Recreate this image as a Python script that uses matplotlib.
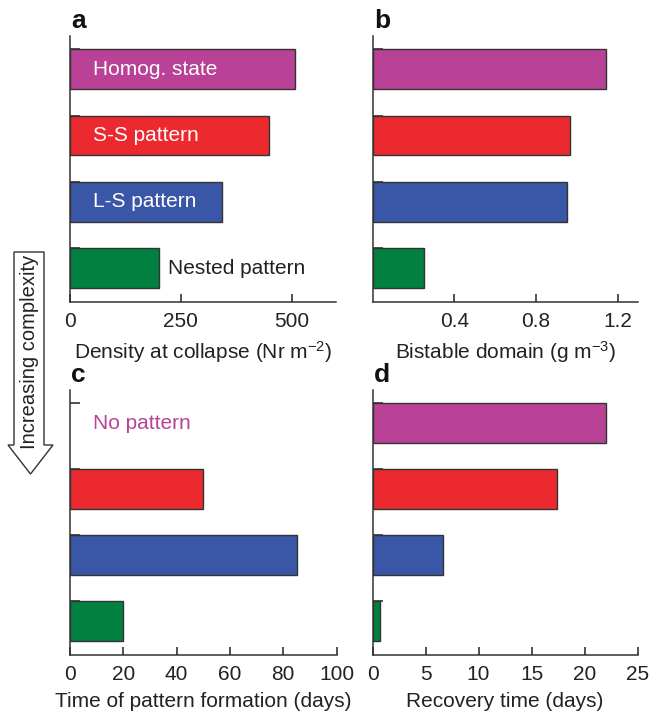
import matplotlib
matplotlib.use("Agg")
import matplotlib.pyplot as plt
from matplotlib.patches import Polygon

plt.rcParams['font.family'] = ['Liberation Sans', 'DejaVu Sans']
plt.rcParams['mathtext.fontset'] = 'custom'
plt.rcParams['mathtext.rm'] = 'Liberation Sans'
plt.rcParams['mathtext.it'] = 'Liberation Sans:italic'

categories = ["Homog. state", "S-S pattern", "L-S pattern", "Nested pattern"]
colors = ["#B94196", "#EC292F", "#3A56A6", "#01803F"]
density_collapse = [508, 449, 342, 200]
bistable_domain = [1.145, 0.968, 0.950, 0.254]
pattern_time = [None, 50, 85, 20]
recovery_time = [22.0, 17.4, 6.65, 0.72]

W, H = 651, 714
fig = plt.figure(figsize=(W / 100, H / 100), dpi=100)

def ax_at(l, r, t, b):
    return fig.add_axes([l / W, (H - b) / H, (r - l) / W, (b - t) / H])

ax_a = ax_at(70, 336, 36, 302)
ax_b = ax_at(372.5, 638, 36, 302)
ax_c = ax_at(70, 336.5, 390, 655)
ax_d = ax_at(372.5, 637.5, 390, 655)

ypos = [3, 2, 1, 0]
bh = 0.6
spine_c = "#333333"
FS = 15

def style(ax, xlim, xticks, xticklabels, xlabel, letter):
    ax.set_xlim(*xlim)
    ax.set_ylim(-0.51, 3.5)
    ax.set_xticks(xticks)
    ax.set_xticklabels(xticklabels)
    ax.set_yticks([p + bh / 2 for p in ypos])
    ax.set_yticklabels([])
    ax.tick_params(axis='both', direction='in', length=6, width=1.2, color=spine_c,
                   labelsize=FS, pad=7, labelcolor="#222222")
    ax.tick_params(axis='y', length=7)
    for s in ['top', 'right']:
        ax.spines[s].set_visible(False)
    for s in ['left', 'bottom']:
        ax.spines[s].set_color(spine_c)
        ax.spines[s].set_linewidth(1.1)
    ax.set_xlabel(xlabel, fontsize=FS, labelpad=6, color="#222222")
    ax.text(0.005, 1.01, letter, transform=ax.transAxes, fontsize=19,
            fontweight='bold', ha='left', va='bottom', color="#111111")

def bars(ax, vals):
    for p, v, c in zip(ypos, vals, colors):
        if v is None:
            continue
        ax.barh(p, v, height=bh, color=c, edgecolor="#333333", linewidth=1.0, zorder=2)

bars(ax_a, density_collapse)
style(ax_a, (0, 600), [0, 250, 500], ["0", "250", "500"],
      "Density at collapse (Nr m$^{-2}$)", "a")
for p, lab in zip(ypos[:3], categories[:3]):
    ax_a.text(51, p, lab, color="white", fontsize=FS, va='center', ha='left', zorder=3)
ax_a.text(density_collapse[3] + 20, ypos[3], categories[3], color="#222222",
          fontsize=FS, va='center', ha='left')

bars(ax_b, bistable_domain)
style(ax_b, (0, 1.3), [0.4, 0.8, 1.2], ["0.4", "0.8", "1.2"],
      "Bistable domain (g m$^{-3}$)", "b")

bars(ax_c, pattern_time)
style(ax_c, (0, 100), [0, 20, 40, 60, 80, 100], ["0", "20", "40", "60", "80", "100"],
      "Time of pattern formation (days)", "c")
ax_c.text(8.5, ypos[0], "No pattern", color=colors[0], fontsize=FS, va='center', ha='left')

bars(ax_d, recovery_time)
style(ax_d, (0, 25), [0, 5, 10, 15, 20, 25], ["0", "5", "10", "15", "20", "25"],
      "Recovery time (days)", "d")

def fx(x):
    return x / W
def fy(y):
    return (H - y) / H
pts = [(14, 252), (44, 252), (44, 445), (53, 445), (30.5, 474), (8, 445), (14, 445)]
arrow = Polygon([(fx(x), fy(y)) for x, y in pts], closed=True, transform=fig.transFigure,
                facecolor="white", edgecolor="#333333", linewidth=1.0)
fig.patches.append(arrow)
fig.text(fx(30), fy(352), "Increasing complexity", rotation=90, ha='center', va='center',
         fontsize=14.5, color="#222222")

fig.savefig("out.png", dpi=100)
